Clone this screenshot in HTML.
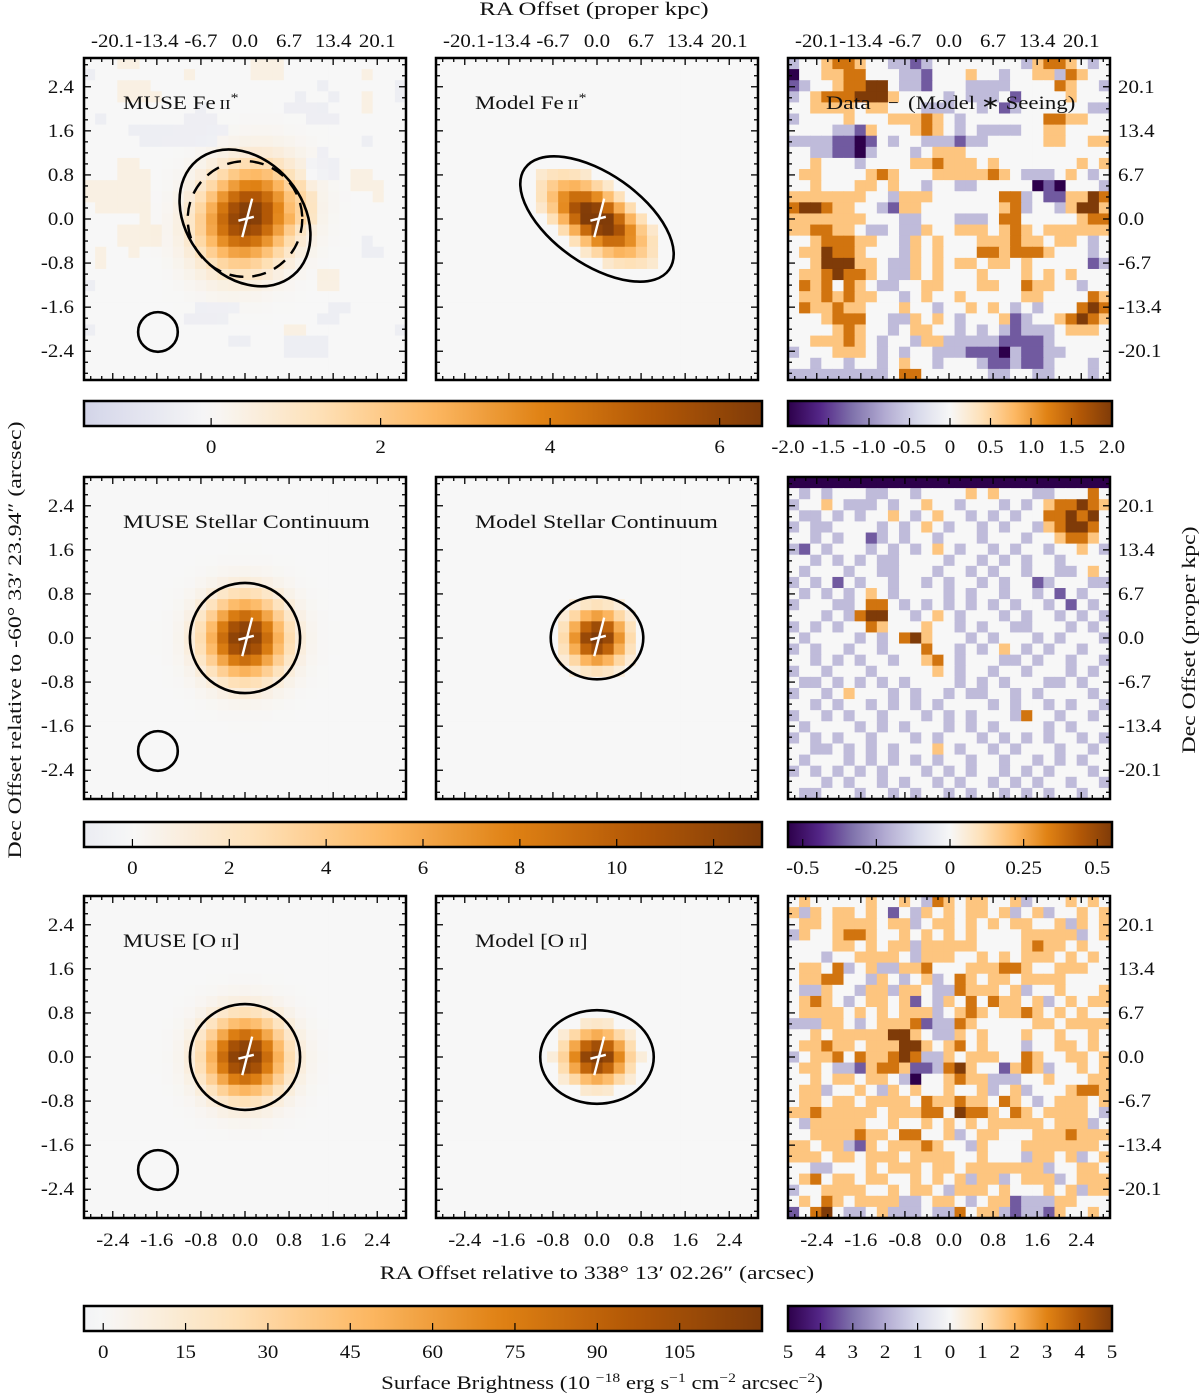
<!DOCTYPE html>
<html><head><meta charset="utf-8"><style>
html,body{margin:0;padding:0;background:#fff;}
svg text{font-family:"Liberation Serif",serif;fill:#111;}
</style></head><body>
<svg id="fig" width="1200" height="1394" viewBox="0 0 1200 1394" xmlns="http://www.w3.org/2000/svg">
<defs></defs>
<g id="layer"></g>
</svg>
<script>
// ---- data ----
const ticksArcsec = [-2.4,-1.6,-0.8,0.0,0.8,1.6,2.4];
const tickLabelsArcsec = ["-2.4","-1.6","-0.8","0.0","0.8","1.6","2.4"];
const tickLabelsKpc = ["-20.1","-13.4","-6.7","0.0","6.7","13.4","20.1"];
const rowVmax = [6.5, 13, 120];
const resVmax = [2.0, 0.55, 5.0];
// gaussian blob params per panel: [xc, yc, sigmaMajor, sigmaMinor, angleDeg, amplitude]
const blobMuse = [[0.05,0.05,0.58,0.5,50,6.6],[0.0,0.0,0.45,0.45,0,13.5],[0.0,0.0,0.45,0.44,0,125]];
const blobModel = [[0.0,0.0,0.62,0.3,-35,7.2],[0.0,0.0,0.34,0.32,0,14],[0.0,0.0,0.36,0.3,0,130]];
// ellipses [xc, yc, rx, ry, angleDeg]
const ellMuse = [[0.0,0.02,1.36,1.05,50],[0.0,0.0,1.0,1.0,0],[0.0,0.0,1.0,0.96,0]];
const ellModel = [[0.0,0.0,1.6,0.82,35],[0.0,0.0,0.84,0.75,0],[0.0,0.0,1.03,0.85,0]];
const ellDashed = [0.0,0.0,1.04,1.05,0];
const seeing = [-1.58,-2.05,0.36];
const bgNoiseFe = [
"44455444444444455544444444444","34444444454444455544444445444","44455544444444444444434444443",
"44455554444444444443443445443","44444444443444444433334445444","43444444433344444444333444444",
"44443333333334444444444444444","44444333333344444444444443444","44444444444444444444434444444",
"44455444444444444444333444444","44455544444444444444333455444","55555544444444444445444455544",
"55555544444444444445544444544","45555544444444444445544444444","44444544444444444455544444444",
"44455554444444444444444444444","44455554444444444444444443444","45445444444444444444444443344",
"45444444444444444444444444444","44444444444444444444455444444","34444444444444444444455444444",
"44444444444444444444444444444","44444444443333444444443344444","44444444433334444444433444444",
"34444444444444444455444444443","44444444444443344433334444444","44444444444444444433334444444",
"44444444444444444444444444444","44444444444444444444444444444"];
const resFe = [
"34456654433234444444435665434","14455664443324445443445536544","23445667743324443333444465443",
"34566678854444343334244445444","44555545544433344342344444433","34444544455565434444444665544",
"44443325444565434333344554444","33332212434433323344444554455","44332213444345554444444444444",
"44544434444556555454444444545","45544445654445555565433345434","44544455454434433444441214443",
"55555554435554444446634225576","67765544325544444445634435785","55555554443344433346644444566",
"55665543343354455545654555555","44566655443545444555655455434","45576654443545444665666544434",
"44577755433545455455454444423","45567665433545444544454545444","46564654334455444554465544344",
"45565655443454454444455444465","46556554445443445454343444676","44456664433545434445234456765",
"44445654434554434343233345554","44555654344355333332222344444","34445554343443332221322334444",
"44344344345443444322322344434","33333333346644444433443344434"];
const resCont = [
"00000000000000000000000100110","43434443344344445454443344464","34454333434454434443434566765",
"43343434454345443434344667674","34334444343454344343443567764","44343442343443444344434456654",
"32434443434345434434344344543","44343434334444344343434434444","43444344334443443434434433454",
"34342434434434344343442344433","43434345434444343443443424344","34443346643434343434344342434",
"44434367744345434443434434343","34343446544454434344334443434","43444434346754443434443434443",
"34344344344464434345434344344","44343434434456434443343443443","34434443444445434434434443434",
"43343434343444434343444334344","34434544434344343344343444434","44343443434343444434344343443",
"34434344344434343444364434434","43444434343444343434444343444","34343443444343444343434344343",
"44334343434445434434344434434","43444343434343443443443434344","34343434344434343443434344434",
"44434344343443434434343443443","43344434434344343443434344344"];
const resOII = [
"45444445445436545544534445454","53545545424354545545345344545","45545555455345545454554453545",
"35445665445454545444455555345","44445545455355555444456554544","44434455554355544545455545454",
"45546345335564445556654455544","45566443543453465455455554444","43354435535543365554534454445",
"45654345545243546465545345455","45555454545553456545565454544","33355434555623365444445545555",
"44545555577543354544454454454","45565545557754564544434455454","34556465567633545554465445545",
"45543325665223675442565344545","44545545543144565533344544455","45534454354544544534534445665",
"45545545555465565546543455545","55655555455566476654654555543","43555554454454545455555455534",
"44555565546644534554445556555","55455325455565443544455555554","55545545554555544544435545345",
"44334445455545545555555344554","45645545544545453553455534555","34455554454554355545444545355",
"45465455553345543455233355444","24674334533343364553233254454"];

// ---- helpers ----
const NS="http://www.w3.org/2000/svg";
const svg=document.getElementById('fig');
const layer=document.getElementById('layer');
function el(tag,attrs,parent){const e=document.createElementNS(NS,tag);for(const k in attrs)e.setAttribute(k,attrs[k]);(parent||layer).appendChild(e);return e;}
const stops=["#2d004b","#542788","#8073ac","#b2abd2","#d8daeb","#f7f7f7","#fee0b6","#fdb863","#e08214","#b35806","#7f3b08"];
function hex(h){return [parseInt(h.substr(1,2),16),parseInt(h.substr(3,2),16),parseInt(h.substr(5,2),16)];}
const stopRGB=stops.map(hex);
function cmap(t){t=Math.max(0,Math.min(1,t));const f=t*10;const i=Math.min(9,Math.floor(f));const u=f-i;const a=stopRGB[i],b=stopRGB[i+1];
  return "rgb("+a.map((v,k)=>Math.round(v+(b[k]-v)*u)).join(",")+")";}
function col(v,vmax){return cmap(0.5+0.5*v/vmax);}

const S=55.1, N=29, EXT=2.92, CELL=322/N;
const colX=[84,436,788], rowY=[58,477,896];
function Xf(px,a){return px+161+a*S;}
function Yf(py,a){return py+161-a*S;}
function gauss(p,x,y){const th=p[4]*Math.PI/180;const dx=x-p[0],dy=y-p[1];
  const u=dx*Math.cos(th)+dy*Math.sin(th), w=-dx*Math.sin(th)+dy*Math.cos(th);
  return p[5]*Math.exp(-0.5*(u*u/(p[2]*p[2])+w*w/(p[3]*p[3])));}

function drawCells(px,py,valFn,vmax,name){
  const g=el('g',{});
  
  
  for(let r=0;r<N;r++)for(let c=0;c<N;c++){
    const x=-EXT+(c+0.5)*2*EXT/N, y=EXT-(r+0.5)*2*EXT/N;
    const rc=el('rect',{x:(px+c*CELL).toFixed(2),y:(py+r*CELL).toFixed(2),width:(CELL+0.6).toFixed(2),height:(CELL+0.6).toFixed(2),fill:col(valFn(r,c,x,y),vmax)},g);
    
    
  }
}
function frameTicks(px,py,name){
  const g=el('g',{});
  
  
  for(let k=-14;k<=14;k++){const a=k*0.2;const major=(Math.abs(Math.round(a*10))%8===0);const L=major?7:4;
    const x=Xf(px,a), y=Yf(py,a);
    el('line',{x1:x,y1:py,x2:x,y2:py+L,stroke:'#000','stroke-width':1.3},g);
    el('line',{x1:x,y1:py+322,x2:x,y2:py+322-L,stroke:'#000','stroke-width':1.3},g);
    el('line',{x1:px,y1:y,x2:px+L,y2:y,stroke:'#000','stroke-width':1.3},g);
    el('line',{x1:px+322,y1:y,x2:px+322-L,y2:y,stroke:'#000','stroke-width':1.3},g);
  }
  el('rect',{x:px,y:py,width:322,height:322,fill:'none',stroke:'#000','stroke-width':2.5},g);
}
function ellipse(px,py,e,extra,name){
  const a=el('ellipse',Object.assign({cx:Xf(px,e[0]),cy:Yf(py,e[1]),rx:e[2]*S,ry:e[3]*S,fill:'none',stroke:'#000','stroke-width':2.6,
    transform:'rotate('+e[4]+' '+Xf(px,e[0])+' '+Yf(py,e[1])+')'},extra||{}));
  
  
}
function cross(px,py){
  const g=el('g',{});
  
  
  el('line',{x1:Xf(px,0.13),y1:Yf(py,0.37),x2:Xf(px,-0.05),y2:Yf(py,-0.33),stroke:'#fff','stroke-width':2.4},g);
  el('line',{x1:Xf(px,-0.12),y1:Yf(py,-0.03),x2:Xf(px,0.16),y2:Yf(py,0.04),stroke:'#fff','stroke-width':2.4},g);
}
const stretchList=[];
function text(x,y,s,opts,name,stretch){const t=el('text',Object.assign({x:x,y:y,'font-size':19},opts||{}));t.textContent=s;
  stretchList.push([t,stretch||1.1]);return t;}

// ---- panels ----
const museLabels=["MUSE Fe","MUSE Stellar Continuum","MUSE [O"];
const modelLabels=["Model Fe","Model Stellar Continuum","Model [O"];
const resGrids=[resFe,resCont,resOII];
for(let r=0;r<3;r++){
  const py=rowY[r], vmax=rowVmax[r];
  drawCells(colX[0],py,(i,j,x,y)=>gauss(blobMuse[r],x,y)+(r===0?(parseInt(bgNoiseFe[i][j])-4)/4*1.6:0),vmax,'muse-map-row'+(r+1));
  drawCells(colX[1],py,(i,j,x,y)=>{const v=gauss(blobModel[r],x,y);return v>0.08*blobModel[r][5]?v:0;},vmax,'model-map-row'+(r+1));
  drawCells(colX[2],py,(i,j)=>(parseInt(resGrids[r][i][j])-4)/3*resVmax[r],resVmax[r],'residual-map-row'+(r+1));
  ellipse(colX[0],py,ellMuse[r],null,'muse-ellipse-row'+(r+1));
  if(r===0) ellipse(colX[0],py,ellDashed,{'stroke-dasharray':'14 9','stroke-width':2.4},'muse-dashed-ellipse');
  ellipse(colX[0],py,[seeing[0],seeing[1],seeing[2],seeing[2],0],null,'seeing-circle-row'+(r+1));
  ellipse(colX[1],py,ellModel[r],null,'model-ellipse-row'+(r+1));
  cross(colX[0],py); cross(colX[1],py);
  for(let c=0;c<3;c++) frameTicks(colX[c],py,'panel-r'+(r+1)+'c'+(c+1));
  const t1=text(123,py+51,museLabels[r],{},'muse-panel-label',1.25);
  const t2=text(475,py+51,modelLabels[r],{},'model-panel-label',1.25);
  if(r===0){[t1,t2].forEach(t=>{const s=el('tspan',{'font-size':14,dx:3},t);s.textContent='II';const s2=el('tspan',{'font-size':13,dy:-7},t);s2.textContent='*';});}
  if(r===2){[t1,t2].forEach(t=>{const s=el('tspan',{'font-size':14,dx:4},t);s.textContent='II';const s2=el('tspan',{},t);s2.textContent=']';});}
  if(r===0){text(826,py+51,"Data",{},'residual-panel-label',1.25);text(888,py+51,"−",{},'residual-minus',1);text(908,py+51,"(Model ∗ Seeing)",{},'residual-panel-label-2',1.2);}
  for(let k=0;k<7;k++){
    text(74,Yf(py,ticksArcsec[k])+6,tickLabelsArcsec[k],{'text-anchor':'end'},'y-tick-label');
    text(1118,Yf(py,ticksArcsec[k])+6,tickLabelsKpc[k],{},'y-tick-label-kpc');
  }
}
for(let c=0;c<3;c++)for(let k=0;k<7;k++){
  text(Xf(colX[c],ticksArcsec[k]),1246,tickLabelsArcsec[k],{'text-anchor':'middle'},'x-tick-label');
  text(Xf(colX[c],ticksArcsec[k]),47,tickLabelsKpc[k],{'text-anchor':'middle'},'x-tick-label-kpc');
}
text(594,15,"RA Offset (proper kpc)",{'text-anchor':'middle'},'top-x-axis-title',1.3);
text(597,1279,"RA Offset relative to 338° 13′ 02.26″ (arcsec)",{'text-anchor':'middle'},'x-axis-title',1.25);
text(0,0,"Dec Offset relative to -60° 33′ 23.94″ (arcsec)",{'text-anchor':'middle',transform:'translate(21,640) rotate(-90)'},'y-axis-title',1.25);
text(0,0,"Dec Offset (proper kpc)",{'text-anchor':'middle',transform:'translate(1195,640) rotate(-90)'},'right-y-axis-title',1.25);
const sb=text(602,1389,"Surface Brightness (10",{'text-anchor':'middle'},'colorbar-title',1.2);
[[" ",0],["−18",-7],[" erg s",0],["−1",-7],[" cm",0],["−2",-7],[" arcsec",0],["−2",-7],[")",0]].forEach((p,i,arr)=>{const s=el('tspan',{},sb);s.textContent=p[0];
  if(p[1]){s.setAttribute('dy',-7);s.setAttribute('font-size',13);}else if(i>0&&arr[i-1][1]){s.setAttribute('dy',7);}});

// ---- colorbars ----
const cbMainMin=[-1.5,-1.0,-3.5], cbMainMax=[6.5,13,120];
const cbMainTicks=[[0,2,4,6],[0,2,4,6,8,10,12],[0,15,30,45,60,75,90,105]];
const cbMainLabels=[["0","2","4","6"],["0","2","4","6","8","10","12"],["0","15","30","45","60","75","90","105"]];
const cbResTicks=[[-2,-1.5,-1,-0.5,0,0.5,1,1.5,2],[-0.5,-0.25,0,0.25,0.5],[-5,-4,-3,-2,-1,0,1,2,3,4,5]];
const cbResLabels=[["-2.0","-1.5","-1.0","-0.5","0","0.5","1.0","1.5","2.0"],["-0.5","-0.25","0","0.25","0.5"],["5","4","3","2","1","0","1","2","3","4","5"]];
const cbY=[401,822,1306];
const defs=svg.querySelector('defs');
function colorbar(x0,x1,y,vmin,vmax,vnorm,ticks,labels,id,name){
  const lg=el('linearGradient',{id:id,x1:0,y1:0,x2:1,y2:0},defs);
  for(let k=0;k<=40;k++){const v=vmin+(vmax-vmin)*k/40;el('stop',{offset:(k/40),'stop-color':col(v,vnorm)},lg);}
  const g=el('g',{});
  
  
  el('rect',{x:x0,y:y,width:x1-x0,height:25,fill:'url(#'+id+')',stroke:'#000','stroke-width':2.5},g);
  ticks.forEach((t,i)=>{const x=x0+(t-vmin)/(vmax-vmin)*(x1-x0);
    el('line',{x1:x,y1:y+25,x2:x,y2:y+17,stroke:'#000','stroke-width':1.2},g);
    text(x,y+52,labels[i],{'text-anchor':'middle'},'colorbar-tick-label');});
}
for(let r=0;r<3;r++){
  colorbar(84,762,cbY[r],cbMainMin[r],cbMainMax[r],rowVmax[r],cbMainTicks[r],cbMainLabels[r],'gm'+r,'colorbar-main-row'+(r+1));
  colorbar(788,1112,cbY[r],-resVmax[r],resVmax[r],resVmax[r],cbResTicks[r],cbResLabels[r],'gr'+r,'colorbar-residual-row'+(r+1));
}
// widen text to mimic Computer Modern metrics
stretchList.forEach(([t,f])=>{try{const L=t.getComputedTextLength();if(L>0){t.setAttribute('textLength',(L*f).toFixed(1));t.setAttribute('lengthAdjust','spacingAndGlyphs');}}catch(e){}});
</script>
</body></html>
